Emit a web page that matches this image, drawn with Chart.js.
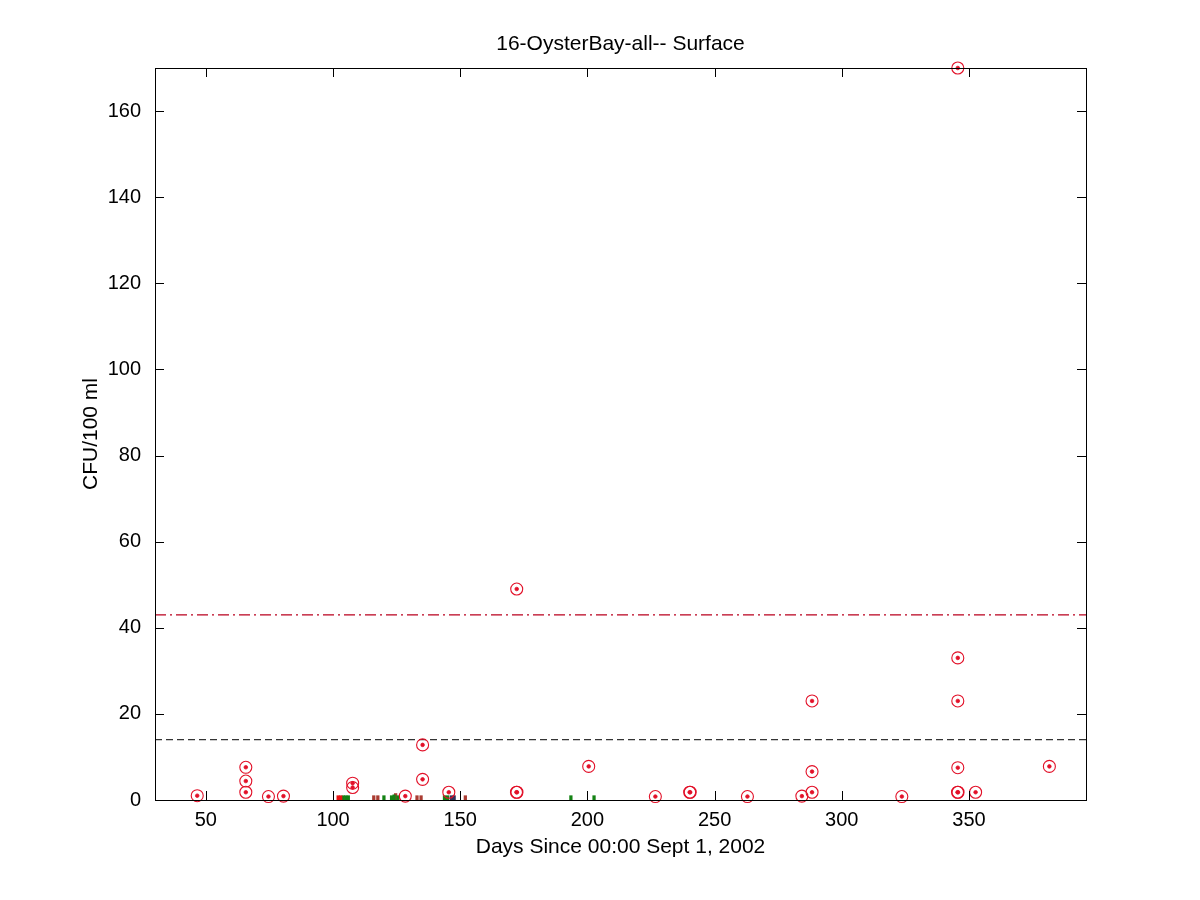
<!DOCTYPE html>
<html>
<head>
<meta charset="utf-8">
<script src="https://cdn.jsdelivr.net/npm/chart.js@4.4.1/dist/chart.umd.min.js"></script>
<style>
  html, body { margin: 0; padding: 0; background: #ffffff; }
  #wrap { width: 1200px; height: 900px; }
</style>
</head>
<body>
<div id="wrap"><canvas id="c" width="1200" height="900"></canvas></div>
<script>
// ---- data ----
const chartTitle = '16-OysterBay-all-- Surface';
const xTitle = 'Days Since 00:00 Sept 1, 2002';
const yTitle = 'CFU/100 ml';
const xMin = 30, xMax = 396;
const yMin = 0, yMax = 170;
const xTickValues = [50, 100, 150, 200, 250, 300, 350];
const yTickValues = [0, 20, 40, 60, 80, 100, 120, 140, 160];

// sample days and bacteria counts
const sampleDays = [46.6, 65.7, 65.7, 65.7, 74.6, 80.5, 107.7, 107.7, 128.4, 135.2, 135.2, 145.5,
  172.1, 172.3, 172.2, 200.5, 226.7, 240.2, 240.4, 262.9, 284.3, 288.3, 288.3, 288.3,
  323.6, 345.5, 345.7, 345.6, 345.6, 345.6, 345.6, 352.6, 381.6];
const sampleCounts = [1, 7.6, 4.4, 1.8, 0.8, 0.9, 3.9, 2.9, 0.9, 12.8, 4.8, 1.8,
  1.8, 1.8, 49, 7.8, 0.8, 1.8, 1.8, 0.8, 0.9, 1.8, 6.6, 23,
  0.8, 1.8, 1.8, 7.5, 23, 33, 170, 1.8, 7.8];

// small bars along the bottom
const redBarDays = [102, 103];
const redBarHeights = [1, 1];
const greenBarDays = [104, 105, 106, 120, 123, 124, 125.5, 143.8, 145, 193.5, 202.6];
const greenBarHeights = [1, 1, 1, 1, 1, 1.2, 1, 1, 1, 1, 1];
const brownBarDays = [116, 117.6, 124.6, 133, 134.6, 152];
const brownBarHeights = [1, 1, 1.5, 1, 1, 1];
const navyBarDays = [146.5, 147.6];
const navyBarHeights = [1, 1];

// standard thresholds
const geoMeanLimit = 14;
const singleSampleLimit = 43;

// ---- helpers ----
const toPts = (xs, ys) => xs.map((x, i) => ({ x: x, y: ys[i] }));
const pts = toPts(sampleDays, sampleCounts);

const FONT = 'Liberation Sans, Arial, sans-serif';
const RED = 'rgb(226,16,40)';

const barCommon = { type: 'bar', barThickness: 2.6, grouped: false, borderWidth: 0, order: 5 };

const framePlugin = {
  id: 'frame',
  afterDraw(chart) {
    const { ctx, chartArea: a, scales } = chart;
    ctx.save();
    ctx.strokeStyle = '#000';
    ctx.lineWidth = 1;
    const tl = 9;
    ctx.beginPath();
    xTickValues.forEach(v => {
      const px = Math.round(scales.x.getPixelForValue(v)) + 0.5;
      ctx.moveTo(px, a.bottom); ctx.lineTo(px, a.bottom - tl);
      ctx.moveTo(px, a.top); ctx.lineTo(px, a.top + tl);
    });
    yTickValues.forEach(v => {
      const py = Math.round(scales.y.getPixelForValue(v)) + 0.5;
      ctx.moveTo(a.left, py); ctx.lineTo(a.left + tl, py);
      ctx.moveTo(a.right, py); ctx.lineTo(a.right - tl, py);
    });
    ctx.stroke();
    ctx.strokeRect(Math.round(a.left) + 0.5, Math.round(a.top) + 0.5,
                   Math.round(a.right - a.left), Math.round(a.bottom - a.top));
    // chart title
    ctx.fillStyle = '#000';
    ctx.font = '21px ' + FONT;
    ctx.textAlign = 'center';
    ctx.textBaseline = 'middle';
    ctx.fillText(chartTitle, (a.left + a.right) / 2, 44);
    ctx.restore();
  }
};

new Chart(document.getElementById('c'), {
  type: 'scatter',
  data: {
    datasets: [
      { ...barCommon, data: toPts(redBarDays, redBarHeights), backgroundColor: 'rgb(235,20,20)' },
      { ...barCommon, data: toPts(greenBarDays, greenBarHeights), backgroundColor: 'rgb(20,130,20)' },
      { ...barCommon, data: toPts(brownBarDays, brownBarHeights), backgroundColor: 'rgb(170,60,50)' },
      { ...barCommon, data: toPts(navyBarDays, navyBarHeights), backgroundColor: 'rgb(50,50,90)' },
      { type: 'line', data: [{ x: xMin, y: geoMeanLimit }, { x: xMax, y: geoMeanLimit }],
        borderColor: '#000', borderWidth: 1, borderDash: [7, 4], pointRadius: 0, order: 4 },
      { type: 'line', data: [{ x: xMin, y: singleSampleLimit }, { x: xMax, y: singleSampleLimit }],
        borderColor: 'rgb(185,0,30)', borderWidth: 1.2, borderDash: [11, 4, 2, 4], pointRadius: 0, order: 4 },
      { data: pts, pointStyle: 'circle', pointRadius: 6, borderColor: RED, borderWidth: 1.1,
        backgroundColor: 'rgba(0,0,0,0)', clip: false, order: 2 },
      { data: pts, pointStyle: 'circle', pointRadius: 1.8, borderColor: RED, borderWidth: 0.8,
        backgroundColor: RED, clip: false, order: 1 }
    ]
  },
  options: {
    responsive: false,
    animation: false,
    events: [],
    layout: { padding: { left: 0, right: 114, top: 68, bottom: 0 } },
    plugins: { legend: { display: false }, title: { display: false }, tooltip: { enabled: false } },
    scales: {
      x: {
        type: 'linear', min: xMin, max: xMax, offset: false,
        grid: { display: false, drawTicks: false, offset: false },
        border: { display: false },
        afterBuildTicks: s => { s.ticks = xTickValues.map(v => ({ value: v })); },
        afterFit: s => { s.height = 100; },
        ticks: { color: '#000', font: { family: FONT, size: 20 }, padding: 8, maxRotation: 0, autoSkip: false },
        title: { display: true, text: xTitle, color: '#000', font: { family: FONT, size: 21 }, padding: { top: 0, bottom: 40 } }
      },
      y: {
        type: 'linear', min: yMin, max: yMax,
        grid: { display: false, drawTicks: false },
        border: { display: false },
        afterBuildTicks: s => { s.ticks = yTickValues.map(v => ({ value: v })); },
        afterFit: s => { s.width = 155; },
        ticks: { color: '#000', font: { family: FONT, size: 20 }, padding: 14, autoSkip: false },
        title: { display: true, text: yTitle, color: '#000', font: { family: FONT, size: 21 }, padding: { top: 79, bottom: 0 } }
      }
    }
  },
  plugins: [framePlugin]
});
</script>
</body>
</html>
